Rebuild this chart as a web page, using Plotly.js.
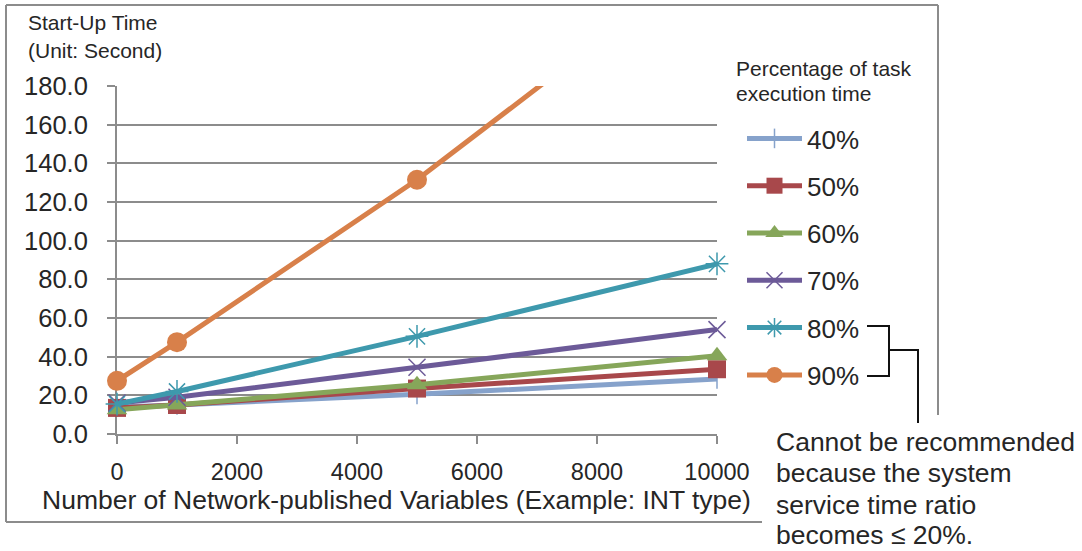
<!DOCTYPE html>
<html><head><meta charset="utf-8">
<script src="https://cdn.plot.ly/plotly-3.0.1.min.js"></script>
<style>body{margin:0;background:#fff}#c{width:1082px;height:551px}</style>
</head><body><div id="c"></div>
<script>
const xValues = [0, 1000, 5000, 10000];
const seriesNames = ['40%', '50%', '60%', '70%', '80%', '90%'];
const s40 = [14, 15, 20.5, 28.5];
const s50 = [13.5, 15, 23.5, 33.5];
const s60 = [12.5, 15, 25.5, 40.5];
const s70 = [16, 19, 34.5, 54];
const s80 = [15.5, 22, 50.5, 88];
const s90 = [27.5, 47.5, 131.5, 250];
const yTickVals = [0, 20, 40, 60, 80, 100, 120, 140, 160, 180];
const xTickVals = [0, 2000, 4000, 6000, 8000, 10000];

const colors = ['#86a2cb', '#a8484b', '#86a65a', '#6c5a98', '#3e99ad', '#d8804a'];
const symbols = ['line-ns', 'square', 'triangle-up', 'x-thin-open', 'asterisk-open', 'circle'];
const sizes = [14, 18, 18, 17, 19, 20];
const allSeries = [s40, s50, s60, s70, s80, s90];

const F = 'Liberation Sans, Arial, sans-serif';
const TXT = '#262626';

const traces = allSeries.map((ys, i) => ({
  x: xValues, y: ys, name: seriesNames[i], type: 'scatter', mode: 'lines+markers',
  legendgroup: 'g' + i,
  cliponaxis: false,
  line: {color: colors[i], width: 5},
  marker: {symbol: symbols[i], size: sizes[i], color: colors[i],
           line: {color: colors[i], width: (i === 0 || i === 3 || i === 4) ? 1.5 : 0}}
}));

// pixel helpers for paper coords (plot area 117..717 x, 86..434 y)
const L = 117, R = 717, T = 86, B = 434;
const px = v => (v - L) / (R - L);
const py = v => (B - v) / (B - T);

const frame = {color: '#8c8c8c', width: 2};
const brk = {color: '#111', width: 2};
const shapes = [
  {type:'line', xref:'paper', yref:'paper', x0:px(6), y0:py(5), x1:px(938), y1:py(5), line:frame},
  {type:'line', xref:'paper', yref:'paper', x0:px(6), y0:py(5), x1:px(6), y1:py(522), line:frame},
  {type:'line', xref:'paper', yref:'paper', x0:px(6), y0:py(522), x1:px(762), y1:py(522), line:frame},
  {type:'line', xref:'paper', yref:'paper', x0:px(938), y0:py(5), x1:px(938), y1:py(415), line:frame},
  {type:'path', xref:'paper', yref:'paper',
   path: `M ${px(867)} ${py(326)} L ${px(889)} ${py(326)} L ${px(889)} ${py(376)} L ${px(867)} ${py(376)}`,
   line: brk},
  {type:'path', xref:'paper', yref:'paper',
   path: `M ${px(889)} ${py(350)} L ${px(918)} ${py(350)} L ${px(918)} ${py(423)}`,
   line: brk}
];

const smallText = (t, x, y) => ({xref:'paper', yref:'paper', x:px(x), y:py(y), xanchor:'left', yanchor:'middle',
  showarrow:false, text:t, font:{family:F, size:21, color:TXT}});
const noteText = (t, y) => ({xref:'paper', yref:'paper', x:px(774), y:py(y), xanchor:'left', yanchor:'middle',
  showarrow:false, text:t, font:{family:F, size:26.5, color:TXT}});

const annotations = [
  smallText('Start-Up Time', 26, 22),
  smallText('(Unit: Second)', 26, 50),
  smallText('Percentage of task', 734, 68),
  smallText('execution time', 734, 94),
  {xref:'paper', yref:'paper', x:px(396), y:py(500), xanchor:'center', yanchor:'middle', showarrow:false,
   text:'Number of Network-published Variables (Example: INT type)', font:{family:F, size:26.5, color:TXT}},
  noteText('Cannot be recommended', 442),
  noteText('because the system', 473),
  noteText('service time ratio', 505),
  noteText('becomes ≤ 20%.', 535)
];

const layout = {
  width: 1082, height: 551,
  margin: {l: L, r: 1082 - R, t: T, b: 551 - B, pad: 0},
  paper_bgcolor: '#fff', plot_bgcolor: '#fff',
  showlegend: true,
  legend: {x: px(742), xanchor: 'left', y: py(115), yanchor: 'top',
           font: {family: F, size: 26, color: TXT}, tracegroupgap: 10.5, itemwidth: 55,
           bgcolor: 'rgba(0,0,0,0)'},
  xaxis: {range: [0, 10000], tickvals: xTickVals, tickformat: 'd', showgrid: false, zeroline: false,
          showline: true, linecolor: '#8c8c8c', linewidth: 2, ticks: 'outside', ticklen: 8, tickwidth: 2,
          tickcolor: '#8c8c8c', ticklabelstandoff: 8, layer: 'below traces',
          tickfont: {family: F, size: 23.5, color: TXT}},
  yaxis: {range: [0, 180], tickvals: yTickVals, tickformat: '.1f', showgrid: true, gridcolor: '#8c8c8c', gridwidth: 2,
          zeroline: false, showline: true, linecolor: '#8c8c8c', linewidth: 2, ticks: 'outside', ticklen: 8,
          tickwidth: 2, tickcolor: '#8c8c8c', ticklabelstandoff: 14, layer: 'below traces',
          tickfont: {family: F, size: 25.5, color: TXT}},
  shapes: shapes,
  annotations: annotations
};

Plotly.newPlot('c', traces, layout, {displayModeBar: false, staticPlot: true});
</script>
</body></html>
